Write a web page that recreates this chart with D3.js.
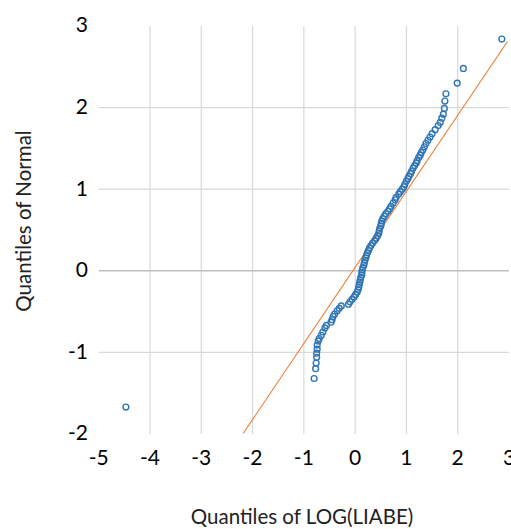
<!DOCTYPE html>
<html>
<head>
<meta charset="utf-8">
<script src="https://cdn.jsdelivr.net/npm/d3@7"></script>
<style>
  body { margin: 0; background: #fff; }
  svg { display: block; }
  text { font-family: Lato, "Open Sans", sans-serif; }
</style>
</head>
<body>
<svg id="chart" width="511" height="529"></svg>
<script>
// quantiles of LOG(LIABE) (x) against quantiles of Normal (y)
var qLog = [-4.47, -0.80, -0.77, -0.76, -0.75, -0.75, -0.74, -0.74, -0.72, -0.70,
    -0.66, -0.63, -0.59, -0.56, -0.47, -0.45, -0.43, -0.40, -0.35, -0.31,
    -0.27, -0.13, -0.10, -0.06, -0.02, 0.01, 0.04, 0.06, 0.07, 0.08,
    0.09, 0.10, 0.11, 0.13, 0.13, 0.14, 0.15, 0.17, 0.18, 0.19,
    0.21, 0.22, 0.24, 0.26, 0.28, 0.31, 0.34, 0.38, 0.41, 0.44,
    0.46, 0.47, 0.48, 0.50, 0.51, 0.52, 0.54, 0.57, 0.60, 0.64,
    0.67, 0.70, 0.74, 0.78, 0.80, 0.85, 0.88, 0.92, 0.95, 0.97,
    1.00, 1.03, 1.05, 1.08, 1.10, 1.13, 1.16, 1.19, 1.21, 1.24,
    1.27, 1.29, 1.32, 1.35, 1.38, 1.42, 1.46, 1.50, 1.56, 1.62,
    1.66, 1.69, 1.72, 1.74, 1.75, 1.77, 1.99, 2.11, 2.86];
var qNormal = [-1.67, -1.32, -1.20, -1.13, -1.06, -1.01, -0.96, -0.91, -0.86, -0.83,
    -0.79, -0.75, -0.70, -0.67, -0.63, -0.60, -0.56, -0.53, -0.49, -0.46,
    -0.43, -0.41, -0.38, -0.35, -0.32, -0.29, -0.26, -0.23, -0.20, -0.17,
    -0.14, -0.11, -0.08, -0.05, -0.02, 0.01, 0.04, 0.07, 0.10, 0.13,
    0.16, 0.19, 0.22, 0.25, 0.28, 0.31, 0.34, 0.37, 0.40, 0.43,
    0.46, 0.49, 0.52, 0.55, 0.58, 0.61, 0.64, 0.67, 0.70, 0.73,
    0.76, 0.79, 0.83, 0.87, 0.90, 0.94, 0.97, 1.00, 1.03, 1.06,
    1.10, 1.13, 1.16, 1.19, 1.22, 1.26, 1.29, 1.32, 1.35, 1.39,
    1.42, 1.45, 1.48, 1.52, 1.56, 1.60, 1.64, 1.68, 1.73, 1.78,
    1.82, 1.87, 1.92, 1.99, 2.08, 2.17, 2.30, 2.48, 2.84];

// reference line end points
var refX = [-2.18, 2.97];
var refY = [-1.99, 2.81];

var xTicks = [-5, -4, -3, -2, -1, 0, 1, 2, 3];
var yTicks = [-2, -1, 0, 1, 2, 3];

var svg = d3.select("#chart");

var x = d3.scaleLinear().domain([-5, 3]).range([98.7, 509]);
var y = d3.scaleLinear().domain([-2, 3]).range([434, 26]);

var grid = svg.append("g");

grid.selectAll(".vgrid")
    .data(xTicks.filter(function (d) { return d > -5 && d < 3; }))
    .enter().append("line")
    .attr("x1", function (d) { return x(d); })
    .attr("x2", function (d) { return x(d); })
    .attr("y1", y(3))
    .attr("y2", y(-2))
    .attr("stroke", "#d9d9d9")
    .attr("stroke-width", 1.2);

grid.selectAll(".hgrid")
    .data(yTicks.filter(function (d) { return d > -2 && d < 3; }))
    .enter().append("line")
    .attr("x1", x(-5))
    .attr("x2", x(3))
    .attr("y1", function (d) { return y(d); })
    .attr("y2", function (d) { return y(d); })
    .attr("stroke", function (d) { return d === 0 ? "#bfbfbf" : "#d9d9d9"; })
    .attr("stroke-width", function (d) { return d === 0 ? 1.6 : 1.2; });

// tick labels
svg.append("g").selectAll("text")
    .data(yTicks)
    .enter().append("text")
    .attr("x", 88)
    .attr("y", function (d) { return y(d) - 1; })
    .attr("dy", "0.35em")
    .attr("text-anchor", "end")
    .attr("font-size", 21)
    .attr("fill", "#000")
    .text(function (d) { return d; });

svg.append("g").selectAll("text")
    .data(xTicks)
    .enter().append("text")
    .attr("x", function (d) { return x(d); })
    .attr("y", 458)
    .attr("dy", "0.35em")
    .attr("text-anchor", "middle")
    .attr("font-size", 21)
    .attr("fill", "#000")
    .text(function (d) { return d; });

// axis titles
svg.append("text")
    .attr("transform", "translate(302,517)")
    .attr("dy", "0.35em")
    .attr("text-anchor", "middle")
    .attr("font-size", 20.5)
    .attr("fill", "#222")
    .text("Quantiles of LOG(LIABE)");

svg.append("text")
    .attr("transform", "translate(24,221) rotate(-90)")
    .attr("dy", "0.35em")
    .attr("text-anchor", "middle")
    .attr("font-size", 20.5)
    .attr("fill", "#222")
    .text("Quantiles of Normal");

// reference line
var line = d3.line()
    .x(function (d) { return x(d[0]); })
    .y(function (d) { return y(d[1]); });

svg.append("path")
    .datum(d3.zip(refX, refY))
    .attr("d", line)
    .attr("fill", "none")
    .attr("stroke", "#ed7d31")
    .attr("stroke-width", 1.1);

// points
svg.append("g").selectAll("circle")
    .data(d3.zip(qLog, qNormal))
    .enter().append("circle")
    .attr("cx", function (d) { return x(d[0]); })
    .attr("cy", function (d) { return y(d[1]); })
    .attr("r", 2.9)
    .attr("fill", "none")
    .attr("stroke", "#2e75b6")
    .attr("stroke-width", 1.4);
</script>
</body>
</html>
